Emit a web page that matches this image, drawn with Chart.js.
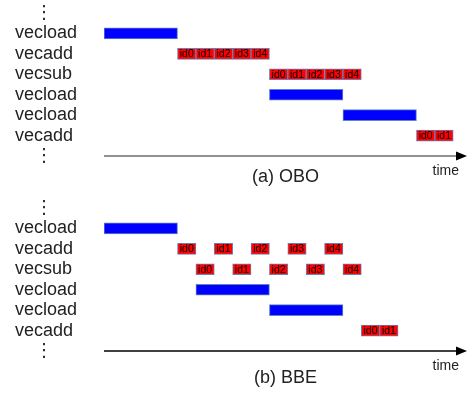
<!DOCTYPE html>
<html>
<head>
<meta charset="utf-8">
<script src="https://cdn.jsdelivr.net/npm/chart.js@4.4.1/dist/chart.umd.min.js"></script>
<style>
  body { margin: 0; background: #fff; }
  #wrap { position: relative; width: 471px; height: 395px; }
  canvas { position: absolute; left: 0; }
</style>
</head>
<body>
<div id="wrap">
  <canvas id="obo" width="471" height="200" style="top:0"></canvas>
  <canvas id="bbe" width="471" height="200" style="top:195px"></canvas>
</div>
<script>
// rows of the timeline, top to bottom
const rowLabels = ['⋮', 'vecload', 'vecadd', 'vecsub', 'vecload', 'vecload', 'vecadd', '⋮'];

// (a) OBO - vector loads (blue)
const oboLoadRows  = [1, 4, 5];
const oboLoadStart = [0, 9, 13];
const oboLoadEnd   = [4, 13, 17];
// (a) OBO - element ops (red)
const oboOpRows  = [2, 2, 2, 2, 2, 3, 3, 3, 3, 3, 6, 6];
const oboOpStart = [4, 5, 6, 7, 8, 9, 10, 11, 12, 13, 17, 18];
const oboOpEnd   = [5, 6, 7, 8, 9, 10, 11, 12, 13, 14, 18, 19];
const oboOpIds   = ['id0', 'id1', 'id2', 'id3', 'id4', 'id0', 'id1', 'id2', 'id3', 'id4', 'id0', 'id1'];

// (b) BBE - vector loads (blue)
const bbeLoadRows  = [1, 4, 5];
const bbeLoadStart = [0, 5, 9];
const bbeLoadEnd   = [4, 9, 13];
// (b) BBE - element ops (red)
const bbeOpRows  = [2, 2, 2, 2, 2, 3, 3, 3, 3, 3, 6, 6];
const bbeOpStart = [4, 6, 8, 10, 12, 5, 7, 9, 11, 13, 14, 15];
const bbeOpEnd   = [5, 7, 9, 11, 13, 6, 8, 10, 12, 14, 15, 16];
const bbeOpIds   = ['id0', 'id1', 'id2', 'id3', 'id4', 'id0', 'id1', 'id2', 'id3', 'id4', 'id0', 'id1'];

const timeMax = 19.75;
const FONT = "'Liberation Sans', Arial, 'DejaVu Sans', sans-serif";

// writes the idN text inside the red boxes
const opLabels = {
  id: 'opLabels',
  afterDatasetsDraw(chart) {
    const ctx = chart.ctx;
    chart.data.datasets.forEach((ds, i) => {
      if (!ds.opIds) return;
      const meta = chart.getDatasetMeta(i);
      ctx.save();
      ctx.font = '10.5px ' + FONT;
      ctx.fillStyle = '#000';
      ctx.textAlign = 'center';
      ctx.textBaseline = 'middle';
      meta.data.forEach((bar, j) => {
        ctx.fillText(ds.opIds[j], (bar.x + bar.base) / 2, bar.y + 0.5);
      });
      ctx.restore();
    });
  }
};

// time axis with arrow head and "time" label
const timeArrow = {
  id: 'timeArrow',
  afterDraw(chart, args, opts) {
    const ctx = chart.ctx;
    const a = chart.chartArea;
    const y = a.bottom;
    ctx.save();
    ctx.strokeStyle = opts.color;
    ctx.fillStyle = '#000';
    ctx.lineWidth = 1.6;
    ctx.beginPath();
    ctx.moveTo(a.left, y);
    ctx.lineTo(a.right - 8, y);
    ctx.stroke();
    ctx.beginPath();
    ctx.moveTo(a.right - 11, y - 4.5);
    ctx.lineTo(a.right, y);
    ctx.lineTo(a.right - 11, y + 4.5);
    ctx.closePath();
    ctx.fill();
    ctx.font = '14px ' + FONT;
    ctx.fillStyle = '#222';
    ctx.textAlign = 'right';
    ctx.textBaseline = 'middle';
    ctx.fillText('time', a.right - 8, y + opts.labelGap);
    ctx.restore();
  }
};

function makeTimeline(id, title, loadRows, loadStart, loadEnd, opRows, opStart, opEnd, opIds, titleBottom, axisColor) {
  const loads = loadRows.map((r, i) => ({ x: [loadStart[i], loadEnd[i]], y: r }));
  const ops = opRows.map((r, i) => ({ x: [opStart[i], opEnd[i]], y: r }));
  return new Chart(document.getElementById(id), {
    type: 'bar',
    data: {
      datasets: [{
        label: 'load',
        data: loads,
        backgroundColor: '#0000ff',
        borderColor: '#6184c4',
        borderWidth: 1,
        borderSkipped: false,
        barThickness: 11,
        grouped: false
      }, {
        label: 'op',
        data: ops,
        opIds: opIds,
        backgroundColor: '#ff0000',
        borderColor: '#6a7fb5',
        borderWidth: 1,
        borderSkipped: false,
        barThickness: 11,
        grouped: false
      }]
    },
    options: {
      indexAxis: 'y',
      responsive: false,
      animation: false,
      devicePixelRatio: 1,
      layout: { padding: { top: 13, left: 15, right: 4, bottom: 0 } },
      plugins: {
        legend: { display: false },
        tooltip: { enabled: false },
        timeArrow: { color: axisColor, labelGap: 15.5 }
      },
      scales: {
        x: {
          type: 'linear',
          min: 0,
          max: timeMax,
          grid: { display: false },
          border: { display: false },
          ticks: { display: false },
          title: {
            display: true,
            text: title,
            color: '#222',
            font: { family: FONT, size: 18 },
            padding: { top: 0, bottom: titleBottom }
          },
          afterFit(scale) { scale.height = 44; }
        },
        y: {
          type: 'linear',
          offset: false,
          reverse: true,
          min: 0,
          max: rowLabels.length - 1,
          grid: { display: false, offset: false },
          border: { display: false },
          ticks: {
            stepSize: 1,
            autoSkip: false,
            crossAlign: 'far',
            color: '#222',
            font: { family: FONT, size: 18 },
            callback(value) {
              const t = rowLabels[value];
              return t === '⋮' ? '    ⋮' : t;
            }
          },
          afterFit(scale) {
            scale.width = 89;
            scale.paddingTop = 0;
            scale.paddingBottom = 0;
          }
        }
      }
    },
    plugins: [opLabels, timeArrow]
  });
}

makeTimeline('obo', '(a) OBO', oboLoadRows, oboLoadStart, oboLoadEnd, oboOpRows, oboOpStart, oboOpEnd, oboOpIds, 12.5, '#6e6e6e');
makeTimeline('bbe', '(b) BBE', bbeLoadRows, bbeLoadStart, bbeLoadEnd, bbeOpRows, bbeOpStart, bbeOpEnd, bbeOpIds, 6.5, '#000');
</script>
</body>
</html>
